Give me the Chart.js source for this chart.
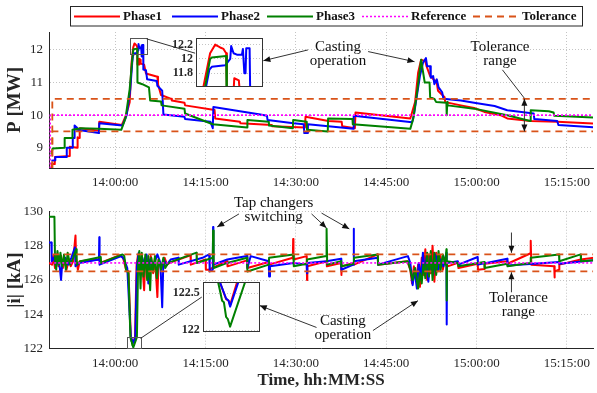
<!DOCTYPE html>
<html><head><meta charset="utf-8">
<script src="https://cdn.jsdelivr.net/npm/chart.js@4.4.1/dist/chart.umd.min.js"></script>
<style>
html,body{margin:0;padding:0;background:#fff;}
#wrap{position:relative;width:597px;height:393px;overflow:hidden;background:#fff;}
canvas{position:absolute;}
</style></head><body>
<div id="wrap">
<canvas id="cTop" width="597" height="195" style="left:0;top:0;width:597px;height:195px"></canvas>
<canvas id="cBot" width="597" height="198" style="left:0;top:195px;width:597px;height:198px"></canvas>
<canvas id="cInTop" width="116" height="69" style="left:150px;top:28px;width:116px;height:69px"></canvas>
<canvas id="cInBot" width="103" height="70" style="left:160px;top:272px;width:103px;height:70px"></canvas>
</div>
<script>
// ---------- data (x = minutes after midnight) ----------
const seriesNames = ['Phase1', 'Phase2', 'Phase3', 'Reference', 'Tolerance'];
const timeTicks = [840, 855, 870, 885, 900, 915];
const powerTicks = [9, 10, 11, 12];
const currentTicks = [122, 124, 126, 128, 130];
const insetPowerTicks = [11.8, 12, 12.2];
const insetCurrentTicks = [122, 122.5];

const phase1Power = [
 [829.40,8.30],[829.45,8.50],[829.95,8.50],[830.00,8.72],[832.40,8.75],[832.45,9.03],[833.70,9.00],[833.75,9.32],[834.05,9.30],[834.10,9.60],[837.30,9.52],[837.35,9.80],[841.10,9.70],[841.80,10.00],[842.40,10.40],[842.71,11.61],[842.99,12.08],[843.20,12.20],[843.41,12.16],[843.55,12.14],[843.66,12.08],[843.69,11.55],[843.97,11.55],[844.00,11.73],[844.19,11.70],[844.22,11.58],[844.80,11.55],[845.10,11.28],[847.00,11.18],[847.10,10.95],[847.60,10.62],[849.30,10.50],[849.40,10.45],[851.50,10.38],[851.60,10.30],[856.50,10.16],[856.60,9.90],[860.70,9.80],[860.80,9.75],[866.00,9.70],[866.10,9.66],[871.50,9.62],[871.60,9.95],[875.40,9.82],[877.60,9.80],[877.70,9.66],[879.80,9.60],[879.90,10.08],[889.00,9.90],[889.40,10.15],[889.80,10.40],[890.30,11.30],[890.80,11.70],[891.50,11.65],[891.70,11.50],[892.30,11.20],[893.40,11.00],[893.60,10.75],[894.70,10.55],[894.80,10.40],[897.40,10.30],[899.60,10.22],[901.30,10.10],[904.00,10.00],[905.10,9.90],[909.00,9.82],[913.40,9.80],[919.50,9.74]
];
const phase2Power = [
 [829.40,8.60],[830.00,8.62],[830.05,8.72],[831.90,8.72],[831.95,9.00],[832.90,9.00],[832.95,9.30],[833.20,9.30],[833.25,9.68],[833.60,9.62],[833.65,9.55],[837.30,9.45],[837.35,9.75],[841.20,9.68],[841.90,10.00],[842.50,10.80],[842.82,11.61],[842.96,11.85],[843.06,11.89],[843.62,11.91],[843.83,12.00],[843.87,12.18],[843.97,12.08],[844.11,12.06],[844.32,12.06],[844.36,12.14],[844.42,11.80],[844.47,11.80],[844.50,12.15],[844.64,12.15],[844.67,11.40],[845.10,11.38],[845.30,11.10],[846.90,11.05],[847.00,10.90],[847.80,10.75],[848.00,10.02],[851.50,9.95],[851.60,9.88],[855.80,9.80],[856.20,9.60],[856.30,10.25],[864.10,10.02],[865.20,9.98],[865.30,9.85],[869.60,9.75],[871.30,9.72],[871.40,9.45],[871.90,9.45],[872.00,9.72],[877.50,9.62],[879.55,9.58],[879.60,9.98],[889.30,9.78],[889.60,10.00],[890.10,10.60],[890.60,11.20],[891.10,11.60],[891.60,11.75],[891.80,11.50],[892.30,11.50],[892.40,11.15],[892.80,11.20],[893.00,10.95],[893.40,11.10],[893.70,10.85],[894.30,10.70],[894.50,10.50],[897.40,10.45],[899.60,10.38],[903.00,10.28],[905.10,10.15],[909.50,10.05],[909.60,9.88],[913.40,9.82],[913.60,9.70],[919.50,9.63]
];
const phase3Power = [
 [829.40,8.80],[829.60,8.98],[831.55,9.00],[831.60,9.30],[832.85,9.30],[832.90,9.55],[834.30,9.60],[837.30,9.58],[841.00,9.55],[841.70,9.90],[842.40,10.80],[842.78,11.61],[842.99,12.00],[843.06,12.02],[843.66,12.04],[843.69,11.00],[844.50,10.95],[845.60,10.85],[845.80,10.45],[847.60,10.42],[847.70,10.30],[851.50,10.20],[851.60,10.05],[856.20,9.72],[861.90,9.62],[861.95,9.85],[865.50,9.80],[865.55,9.68],[869.50,9.60],[869.55,9.85],[871.80,9.80],[871.85,9.55],[875.30,9.50],[875.35,9.90],[879.40,9.88],[879.45,9.72],[889.00,9.58],[889.50,9.90],[890.20,10.80],[890.80,11.70],[891.40,11.00],[892.20,11.00],[892.30,10.55],[893.00,10.50],[893.30,10.40],[895.00,10.38],[895.05,10.00],[895.15,10.40],[895.20,10.30],[899.60,10.20],[905.10,10.00],[908.90,9.82],[909.00,10.15],[912.00,10.12],[912.80,10.08],[912.90,9.98],[919.50,9.93]
];
const referencePower = [[829.20,8.00],[829.20,10.00],[919.50,10.00]];
const toleranceUpperPower = [[829.55,8.00],[829.55,10.50],[919.50,10.50]];
const toleranceLowerPower = [[829.55,8.00],[829.55,9.50],[919.50,9.50]];

const phase1Current = [
 [829.00,127.00],[829.50,126.90],[829.70,127.40],[830.00,126.70],[830.30,127.50],[830.60,126.80],[831.00,127.40],[831.30,126.70],[831.60,127.30],[831.90,126.60],[832.30,127.20],[832.60,126.80],[833.00,127.10],[833.40,128.60],[833.50,127.30],[833.80,126.60],[834.10,127.10],[837.40,127.20],[837.50,127.00],[840.80,127.45],[841.30,127.30],[841.80,126.60],[842.20,126.50],[842.59,122.65],[842.84,122.42],[842.94,122.40],[843.00,122.34],[843.28,122.65],[843.55,126.90],[843.80,127.50],[844.10,126.50],[844.40,127.40],[844.80,125.40],[845.00,127.30],[845.50,126.60],[845.90,127.40],[846.30,126.40],[846.60,127.30],[847.00,125.00],[847.20,127.20],[847.70,126.70],[848.20,127.30],[848.60,126.90],[849.00,127.00],[852.50,127.45],[852.55,126.90],[855.00,127.20],[855.05,126.60],[855.50,126.60],[858.60,127.10],[858.65,126.80],[861.90,127.15],[861.95,126.70],[865.50,127.05],[865.55,126.90],[869.50,127.30],[869.55,128.40],[869.60,127.20],[871.80,127.40],[871.85,126.00],[871.90,126.80],[875.10,127.10],[875.15,126.80],[877.50,127.00],[877.55,126.30],[877.60,126.80],[879.60,127.00],[879.65,126.90],[883.60,127.50],[883.65,126.90],[888.50,127.10],[889.00,126.60],[889.30,125.80],[889.60,126.80],[890.00,126.00],[890.30,126.90],[890.60,125.60],[890.90,127.30],[891.20,126.30],[891.50,127.80],[891.80,126.00],[892.10,127.50],[892.40,126.40],[892.70,128.00],[893.00,125.90],[893.30,127.60],[893.60,126.50],[894.00,127.40],[894.40,126.60],[894.80,127.30],[895.20,126.80],[896.90,127.00],[897.00,126.70],[900.20,126.95],[900.25,126.60],[901.30,126.65],[901.35,126.95],[905.10,127.10],[905.15,126.95],[908.90,127.55],[909.00,128.30],[909.10,126.90],[912.90,126.80],[912.95,126.15],[913.00,126.50],[913.70,126.60],[913.75,126.90],[917.30,127.20],[919.50,127.30]
];
const phase2Current = [
 [829.00,128.20],[829.40,128.20],[829.45,127.10],[829.80,127.30],[830.20,126.80],[830.60,127.40],[831.00,126.00],[831.20,127.00],[831.70,127.30],[832.20,126.90],[832.70,127.30],[833.30,127.90],[833.40,126.80],[834.00,127.00],[837.30,127.20],[837.35,128.50],[837.40,126.90],[841.00,127.40],[841.50,127.20],[842.00,126.70],[842.59,122.65],[842.84,122.43],[842.94,122.40],[843.00,122.32],[843.33,122.65],[843.60,126.80],[843.90,127.60],[844.20,126.30],[844.50,127.30],[844.90,126.80],[845.20,127.50],[845.50,125.80],[845.80,127.20],[846.40,126.90],[847.00,127.50],[847.50,127.00],[847.80,124.40],[848.00,127.20],[848.60,126.90],[849.20,127.20],[850.50,127.30],[850.55,126.90],[854.50,127.30],[855.60,127.50],[855.70,126.50],[856.20,126.60],[856.25,129.10],[856.30,126.90],[858.60,127.20],[861.90,127.40],[861.95,126.70],[862.50,127.40],[865.50,127.10],[865.55,126.20],[865.70,126.80],[869.60,127.00],[871.80,126.90],[871.85,126.40],[871.90,127.00],[875.10,127.10],[877.50,127.25],[877.55,126.60],[879.55,126.90],[879.60,129.00],[879.65,127.10],[883.60,127.30],[883.65,126.90],[888.60,127.40],[889.00,127.00],[889.40,125.70],[889.70,126.60],[890.10,125.50],[890.40,127.00],[890.80,126.20],[891.10,127.60],[891.40,126.40],[891.70,127.30],[892.00,125.90],[892.40,127.40],[892.80,126.30],[893.20,127.50],[893.60,126.60],[894.00,127.20],[894.50,126.80],[895.00,127.60],[895.05,123.40],[895.10,127.00],[896.90,127.10],[897.00,126.90],[900.20,127.35],[900.25,126.90],[905.10,127.25],[905.15,126.85],[909.50,126.95],[913.70,127.05],[913.75,126.95],[919.50,127.15]
];
const phase3Current = [
 [829.00,129.70],[829.90,129.70],[830.00,127.20],[830.20,126.60],[830.40,127.70],[830.70,126.90],[830.90,127.60],[831.20,126.80],[831.50,127.50],[831.80,126.60],[832.10,127.60],[832.50,126.90],[833.00,127.30],[833.50,127.80],[833.60,126.90],[834.20,127.10],[837.60,127.35],[837.65,127.00],[841.20,127.50],[841.50,127.40],[841.80,126.60],[842.20,126.40],[842.52,122.65],[842.68,122.40],[842.75,122.38],[842.84,122.18],[842.91,122.15],[843.00,122.05],[843.60,122.65],[843.80,126.90],[844.00,127.70],[844.20,125.50],[844.40,127.60],[844.70,126.20],[845.00,127.50],[845.30,126.00],[845.50,127.40],[845.80,125.40],[846.00,127.30],[846.30,126.50],[846.60,127.40],[846.90,126.10],[847.20,127.20],[847.60,126.60],[848.00,127.30],[848.30,126.70],[848.80,127.00],[853.50,127.60],[853.55,127.00],[856.20,127.30],[856.25,128.90],[856.35,126.70],[858.60,127.00],[861.90,127.30],[861.95,126.50],[865.50,126.90],[865.55,127.30],[869.60,127.50],[869.65,126.80],[871.80,126.95],[871.85,127.20],[875.05,127.40],[875.10,129.00],[875.20,126.90],[877.50,127.10],[877.55,126.80],[879.60,126.95],[879.65,127.30],[883.60,127.50],[883.65,126.90],[888.60,127.10],[889.00,126.60],[889.40,126.00],[889.80,126.70],[890.30,125.50],[890.60,126.40],[890.90,125.80],[891.20,127.00],[891.50,126.10],[891.80,127.60],[892.10,126.20],[892.40,127.70],[892.70,126.00],[893.00,127.60],[893.30,126.30],[893.70,127.70],[894.00,126.50],[894.40,127.50],[894.80,126.90],[895.00,127.80],[895.05,124.80],[895.10,127.10],[896.90,127.00],[897.00,126.80],[901.30,127.05],[901.35,126.70],[905.10,126.95],[905.15,126.80],[908.90,127.00],[909.00,127.30],[913.70,127.50],[913.75,127.10],[917.30,127.50],[917.35,127.10],[919.50,127.15]
];
const referenceCurrent = [[829.20,127.00],[919.50,127.00]];
const toleranceUpperCurrent = [[829.55,127.50],[919.50,127.50]];
const toleranceLowerCurrent = [[829.55,126.50],[919.50,126.50]];

// ---------- styling ----------
const FONT = "'Liberation Serif','Times New Roman',serif";
const INK = '#262626';
const GRID = '#c4c4c4';
const RED = '#ff0000', BLUE = '#0000ff', GREEN = '#008000', MAG = '#ff00ff', ORANGE = '#d95319';
const X_MIN = 829.0, X_MAX = 919.35;

function fmtTime(v) {
  const tot = Math.round(v * 60);
  const h = Math.floor(tot / 3600), m = Math.floor((tot % 3600) / 60), s = tot % 60;
  return String(h).padStart(2, '0') + ':' + String(m).padStart(2, '0') + ':' + String(s).padStart(2, '0');
}
function lineSet(label, data, color, width, dash, order, clip) {
  const d = {label, data, borderColor: color, backgroundColor: color, borderWidth: width, borderDash: dash,
    pointRadius: 0, pointHoverRadius: 0, tension: 0, fill: false, order, borderJoinStyle: 'round'};
  if (clip !== undefined) d.clip = clip;
  return d;
}
function phaseSets(a, b, c, clip) {
  return [lineSet(seriesNames[0], a, RED, 2, [], 6, clip), lineSet(seriesNames[1], b, BLUE, 2, [], 5, clip), lineSet(seriesNames[2], c, GREEN, 2, [], 4, clip)];
}
function refSets(ref, tu, tl) {
  return [lineSet(seriesNames[3], ref, MAG, 1.6, [2, 2], 3), lineSet(seriesNames[4], tu, ORANGE, 1.8, [7, 5], 2), lineSet(seriesNames[4], tl, ORANGE, 1.8, [7, 5], 1)];
}
function timeAxis(height, title) {
  return {type: 'linear', position: 'bottom', min: X_MIN, max: X_MAX,
    afterBuildTicks: s => { s.ticks = timeTicks.map(v => ({value: v})); },
    afterFit: s => { s.height = height; },
    ticks: {callback: v => fmtTime(v), font: {family: FONT, size: 13}, color: INK, padding: 7, maxRotation: 0, autoSkip: false},
    grid: {color: GRID, lineWidth: 1, drawTicks: false},
    border: {display: true, color: INK, width: 1, dash: [1, 2]},
    title: title ? {display: true, text: title, font: {family: FONT, size: 17, weight: 'bold'}, color: INK, padding: {top: 0, bottom: 2}} : {display: false}};
}
function valueAxis(min, max, ticks, title) {
  return {type: 'linear', position: 'left', min, max,
    afterBuildTicks: s => { s.ticks = ticks.map(v => ({value: v})); },
    afterFit: s => { s.width = 49; },
    ticks: {font: {family: FONT, size: 13}, color: INK, padding: 6, callback: v => String(v)},
    grid: {color: GRID, lineWidth: 1, drawTicks: false},
    border: {display: true, color: INK, width: 1, dash: [1, 2]},
    title: {display: true, text: title, font: {family: FONT, size: 19, weight: 'bold'}, color: INK, padding: {top: 4, bottom: 0}}};
}

// ---------- drawing helpers ----------
function pt(chart, x, y) { return [chart.scales.x.getPixelForValue(x), chart.scales.y.getPixelForValue(y)]; }
function head(ctx, x1, y1, x2, y2) {
  const a = Math.atan2(y2 - y1, x2 - x1), L = 7, W = 3;
  ctx.beginPath();
  ctx.moveTo(x2, y2);
  ctx.lineTo(x2 - L * Math.cos(a) + W * Math.sin(a), y2 - L * Math.sin(a) - W * Math.cos(a));
  ctx.lineTo(x2 - L * Math.cos(a) - W * Math.sin(a), y2 - L * Math.sin(a) + W * Math.cos(a));
  ctx.closePath(); ctx.fill();
}
function notesPlugin(notes) {
  return {id: 'notes', afterDraw(chart) {
    const ctx = chart.ctx;
    ctx.save();
    ctx.strokeStyle = '#333'; ctx.fillStyle = '#111'; ctx.lineWidth = 1; ctx.setLineDash([]);
    if (notes.rect) {
      const [x1, y1] = pt(chart, notes.rect[0], notes.rect[3]);
      const [x2, y2] = pt(chart, notes.rect[1], notes.rect[2]);
      ctx.strokeStyle = '#555';
      ctx.strokeRect(Math.round(x1) + 0.5, Math.round(y1) + 0.5, Math.round(x2 - x1), Math.round(y2 - y1));
      ctx.strokeStyle = '#333';
    }
    (notes.lines || []).forEach(l => {
      const [x1, y1] = pt(chart, l[0][0], l[0][1]);
      const [x2, y2] = pt(chart, l[1][0], l[1][1]);
      ctx.beginPath(); ctx.moveTo(x1, y1); ctx.lineTo(x2, y2); ctx.stroke();
    });
    (notes.arrows || []).forEach(l => {
      const [x1, y1] = pt(chart, l[0][0], l[0][1]);
      const [x2, y2] = pt(chart, l[1][0], l[1][1]);
      ctx.beginPath(); ctx.moveTo(x1, y1); ctx.lineTo(x2, y2); ctx.stroke();
      head(ctx, x1, y1, x2, y2);
      if (l[2]) head(ctx, x2, y2, x1, y1);
    });
    ctx.fillStyle = '#111';
    ctx.font = '15px ' + FONT; ctx.textAlign = 'center'; ctx.textBaseline = 'middle';
    (notes.texts || []).forEach(t => {
      const [cx, cy] = pt(chart, t.x, t.y);
      const lh = 14;
      t.lines.forEach((s, i) => ctx.fillText(s, cx, cy + (i - (t.lines.length - 1) / 2) * lh));
    });
    ctx.restore();
  }};
}
const legendPlugin = {id: 'boxLegend', afterDraw(chart) {
  const ctx = chart.ctx;
  const lx = [74, 172, 267, 362, 473];
  const ds = [0, 1, 2, 3, 4].map(i => chart.data.datasets[i]);
  ctx.save();
  ctx.fillStyle = '#fff';
  ctx.fillRect(70.5, 6.5, 512, 19.5);
  ctx.strokeStyle = INK; ctx.lineWidth = 1; ctx.setLineDash([]);
  ctx.strokeRect(70.5, 6.5, 512, 19.5);
  ctx.font = 'bold 13px ' + FONT; ctx.textBaseline = 'middle'; ctx.textAlign = 'left';
  ds.forEach((d, i) => {
    ctx.strokeStyle = d.borderColor; ctx.lineWidth = d.borderWidth; ctx.setLineDash(d.borderDash || []);
    ctx.beginPath(); ctx.moveTo(lx[i], 16.5); ctx.lineTo(lx[i] + 46, 16.5); ctx.stroke();
    ctx.fillStyle = '#111';
    ctx.fillText(d.label, lx[i] + 49, 17);
  });
  ctx.restore();
}};
const insetFrame = {id: 'insetFrame',
  beforeDraw(c) { const a = c.chartArea, ctx = c.ctx; ctx.save(); ctx.fillStyle = '#fff'; ctx.fillRect(a.left, a.top, a.right - a.left, a.bottom - a.top); ctx.restore(); },
  afterDraw(c) { const a = c.chartArea, ctx = c.ctx; ctx.save(); ctx.strokeStyle = '#333'; ctx.lineWidth = 1; ctx.strokeRect(Math.round(a.left) + 0.5, Math.round(a.top) + 0.5, Math.round(a.right - a.left) - 1, Math.round(a.bottom - a.top) - 1); ctx.restore(); }};

const common = {responsive: false, maintainAspectRatio: false, animation: false, devicePixelRatio: 1, events: [],
  plugins: {legend: {display: false}, tooltip: {enabled: false}}};

// ---------- top chart ----------
new Chart(document.getElementById('cTop'), {
  type: 'line',
  data: {datasets: phaseSets(phase1Power, phase2Power, phase3Power).concat(refSets(referencePower, toleranceUpperPower, toleranceLowerPower))},
  options: Object.assign({}, common, {
    layout: {padding: {top: 32, right: 1, bottom: 0, left: 0}},
    scales: {x: timeAxis(27, null), y: valueAxis(8.38, 12.55, powerTicks, 'P [MW]')}
  }),
  plugins: [legendPlugin, notesPlugin({
    rect: [842.4, 845.2, 11.88, 12.37],
    lines: [[[845.2, 12.34], [853.27, 11.9]], [[904.3, 11.39], [907.95, 10.52]]],
    arrows: [[[872.0, 12.0], [864.6, 11.67]], [[882.0, 11.95], [889.7, 11.64]], [[907.95, 10.5], [907.95, 9.5], true]],
    texts: [{x: 877.0, y: 11.88, lines: ['Casting', 'operation']}, {x: 903.9, y: 11.86, lines: ['Tolerance', 'range']}]
  })]
});

// ---------- bottom chart ----------
new Chart(document.getElementById('cBot'), {
  type: 'line',
  data: {datasets: phaseSets(phase1Current, phase2Current, phase3Current).concat(refSets(referenceCurrent, toleranceUpperCurrent, toleranceLowerCurrent))},
  options: Object.assign({}, common, {
    layout: {padding: {top: 16.7, right: 1, bottom: 0, left: 0}},
    scales: {x: timeAxis(44.7, 'Time, hh:MM:SS'), y: valueAxis(122, 130, currentTicks, '|i| [kA]')}
  }),
  plugins: [notesPlugin({
    rect: [841.9, 844.2, 122.02, 122.64],
    lines: [[[844.2, 122.58], [854.37, 125.0]]],
    arrows: [[[860.55, 129.87], [856.93, 129.11]], [[872.6, 129.87], [875.08, 129.05]], [[874.26, 129.92], [878.88, 128.99]],
             [[873.43, 123.22], [864.0, 124.5]], [[882.8, 123.04], [890.27, 124.79]],
             [[905.8, 128.78], [905.8, 127.59]], [[905.8, 125.28], [905.8, 126.45]]],
    texts: [{x: 866.3, y: 130.1, lines: ['Tap changers', 'switching']}, {x: 877.8, y: 123.19, lines: ['Casting', 'operation']}, {x: 906.95, y: 124.56, lines: ['Tolerance', 'range']}]
  })]
});

// ---------- insets ----------
function insetChart(id, sets, xmin, xmax, ymin, ymax, ticks, padding, yw) {
  new Chart(document.getElementById(id), {
    type: 'line',
    data: {datasets: sets},
    options: Object.assign({}, common, {
      layout: {padding},
      scales: {
        x: {type: 'linear', display: false, min: xmin, max: xmax},
        y: {type: 'linear', position: 'left', min: ymin, max: ymax,
          afterBuildTicks: s => { s.ticks = ticks.map(v => ({value: v})); },
          afterFit: s => { s.width = yw; },
          ticks: {font: {family: FONT, size: 12, weight: 'bold'}, color: INK, padding: 3, callback: v => String(v)},
          grid: {color: GRID, lineWidth: 1, drawTicks: false},
          border: {display: false, dash: [1, 2]}}
      }
    }),
    plugins: [insetFrame]
  });
}
insetChart('cInTop', phaseSets(phase1Power, phase2Power, phase3Power, 0), 842.4, 845.2, 11.61, 12.29, insetPowerTicks, {top: 4, right: 3, bottom: 4, left: 0}, 46);
insetChart('cInBot', phaseSets(phase1Current, phase2Current, phase3Current, 0), 841.9, 844.2, 121.98, 122.65, insetCurrentTicks, {top: 4.7, right: 3, bottom: 3.7, left: 0}, 42.7);
</script>
</body></html>
